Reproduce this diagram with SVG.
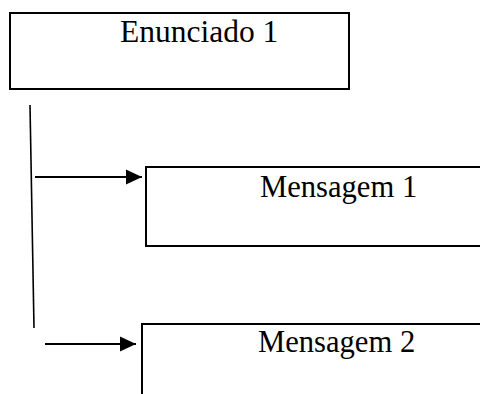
<svg xmlns="http://www.w3.org/2000/svg" width="480" height="394" viewBox="0 0 480 394">
<style>
.box{fill:#fff;stroke:#000;stroke-width:2}
.lbl{font-family:"Liberation Serif","Times New Roman",serif;fill:#000}
.con{stroke:#000;stroke-width:2;fill:none}
</style>
<defs>
<marker id="arr" markerUnits="userSpaceOnUse" markerWidth="17" markerHeight="16" refX="16" refY="8" orient="auto">
<path d="M0,0.5 L16,8 L0,15.5 Z" fill="#000"/>
</marker>
</defs>
<rect width="480" height="394" fill="#fff"/>
<g id="enunciado1">
<rect class="box" x="10" y="13" width="339" height="76"/>
<text class="lbl" x="120" y="42" font-size="31.5">Enunciado 1</text>
</g>
<g id="mensagem1">
<rect class="box" x="146" y="167" width="345" height="79"/>
<text class="lbl" x="260" y="197" font-size="30.6">Mensagem 1</text>
</g>
<g id="mensagem2">
<rect class="box" x="142" y="324" width="345" height="90"/>
<text class="lbl" x="258" y="352" font-size="30.6">Mensagem 2</text>
</g>
<g id="connectors">
<line class="con" x1="30" y1="105" x2="34" y2="328" style="stroke-width:1.6"/>
<line class="con" x1="35" y1="177" x2="142" y2="177" marker-end="url(#arr)"/>
<line class="con" x1="45" y1="344" x2="136" y2="344" marker-end="url(#arr)"/>
</g>
</svg>
